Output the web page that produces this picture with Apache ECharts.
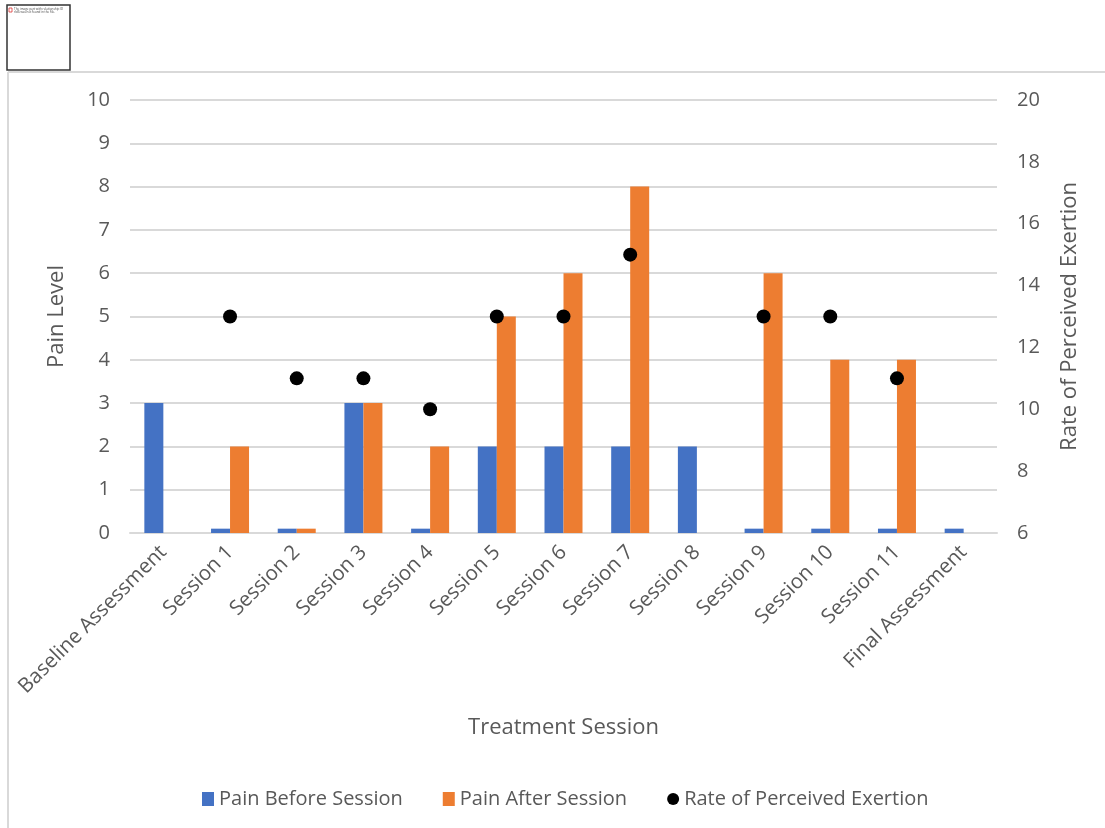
<!DOCTYPE html>
<html>
<head>
<meta charset="utf-8">
<script src="https://cdn.jsdelivr.net/npm/echarts@6/dist/echarts.min.js"></script>
<style>
html,body{margin:0;padding:0;background:#fff;}
#chart{width:1105px;height:828px;}
</style>
</head>
<body>
<div id="chart"></div>
<script>
const categories = ['Baseline Assessment','Session 1','Session 2','Session 3','Session 4','Session 5','Session 6','Session 7','Session 8','Session 9','Session 10','Session 11','Final Assessment'];
const painBefore = [3, 0.1, 0.1, 3, 0.1, 2, 2, 2, 2, 0.1, 0.1, 0.1, 0.1];
const painAfter = [null, 2, 0.1, 3, 2, 5, 6, 8, null, 6, 4, 4, null];
const rpe = [null, 13, 11, 11, 10, 13, 13, 15, null, 13, 13, 11, null];
const leftTicks = {min: 0, max: 10, interval: 1};
const rightTicks = {min: 6, max: 20, interval: 2};

const FONT = '"Open Sans", "Liberation Sans", sans-serif';
const chart = echarts.init(document.getElementById('chart'), null, {renderer: 'canvas'});
chart.setOption({
  backgroundColor: '#ffffff',
  animation: false,
  textStyle: {fontFamily: FONT, color: '#595959'},
  graphic: [
    {type: 'line', shape: {x1: 8, y1: 72, x2: 1105, y2: 72}, style: {stroke: '#d9d9d9', lineWidth: 2}},
    {type: 'line', shape: {x1: 8, y1: 72, x2: 8, y2: 828}, style: {stroke: '#d9d9d9', lineWidth: 2}},
    {type: 'rect', shape: {x: 7, y: 5, width: 63, height: 65}, style: {fill: '#fff', stroke: '#333', lineWidth: 1.5}},
    {type: 'rect', shape: {x: 9, y: 8, width: 3, height: 4}, style: {fill: '#fff', stroke: '#d33', lineWidth: 0.8}},
    {type: 'text', x: 14, y: 8, style: {text: 'The image part with relationship ID\nrId6 was not found in the file.', fontSize: 3, fill: '#444', fontFamily: FONT}}
  ],
  legend: {
    bottom: 14,
    left: 197,
    itemGap: 40,
    itemWidth: 12,
    itemHeight: 14,
    textStyle: {fontSize: 20, color: '#595959', fontFamily: FONT},
    data: [
      {name: 'Pain Before Session', icon: 'rect'},
      {name: 'Pain After Session', icon: 'rect'},
      {name: 'Rate of Perceived Exertion', icon: 'circle'}
    ]
  },
  grid: {left: 130, right: 108, top: 100, bottom: 295, containLabel: false},
  xAxis: {
    type: 'category',
    data: categories,
    name: 'Treatment Session',
    nameLocation: 'middle',
    nameGap: 184,
    nameTextStyle: {fontSize: 22, color: '#595959'},
    axisLine: {show: true, lineStyle: {color: '#d9d9d9', width: 2}},
    axisTick: {show: false},
    axisLabel: {rotate: 45, fontSize: 20.5, color: '#595959', margin: 16, interval: 0}
  },
  yAxis: [
    {
      type: 'value',
      min: leftTicks.min, max: leftTicks.max, interval: leftTicks.interval,
      name: 'Pain Level',
      nameLocation: 'middle',
      nameGap: 62,
      nameRotate: 90,
      nameTextStyle: {fontSize: 22, color: '#595959'},
      axisLine: {show: false},
      axisTick: {show: false},
      axisLabel: {fontSize: 20, color: '#595959', margin: 20},
      splitLine: {lineStyle: {color: '#d9d9d9', width: 2}}
    },
    {
      type: 'value',
      min: rightTicks.min, max: rightTicks.max, interval: rightTicks.interval,
      position: 'right',
      name: 'Rate of Perceived Exertion',
      nameLocation: 'middle',
      nameGap: 62,
      nameRotate: 90,
      nameTextStyle: {fontSize: 22, color: '#595959'},
      axisLine: {show: false},
      axisTick: {show: false},
      axisLabel: {fontSize: 20, color: '#595959', margin: 20},
      splitLine: {show: false}
    }
  ],
  series: [
    {
      name: 'Pain Before Session', type: 'bar', yAxisIndex: 0,
      data: painBefore, barWidth: 19, barGap: '0%',
      itemStyle: {color: '#4472C4'}
    },
    {
      name: 'Pain After Session', type: 'bar', yAxisIndex: 0,
      data: painAfter, barWidth: 19, barGap: '0%',
      itemStyle: {color: '#ED7D31'}
    },
    {
      name: 'Rate of Perceived Exertion', type: 'scatter', yAxisIndex: 1,
      data: rpe, symbol: 'circle', symbolSize: 14,
      itemStyle: {color: '#000000', opacity: 1}, z: 5
    }
  ]
});
</script>
</body>
</html>
